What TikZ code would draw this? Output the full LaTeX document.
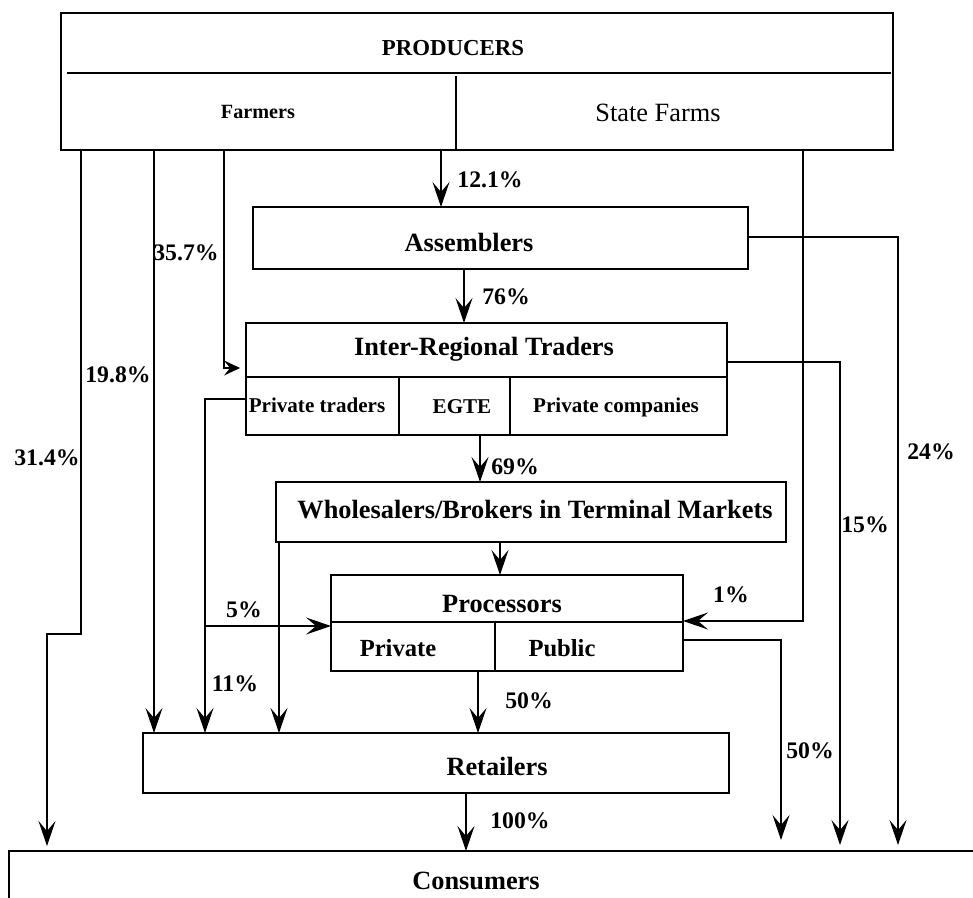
\documentclass[tikz,border=0pt]{standalone}
\usepackage{fontspec}
\setmainfont{Liberation Serif}
\usetikzlibrary{arrows.meta}
\begin{document}
\begin{tikzpicture}[x=0.02cm,y=-0.02cm,
  box/.style={draw,line width=1.3pt,inner sep=0pt,outer sep=0pt},
  conn/.style={line width=0.7pt},
  arr/.style={conn,-{Stealth[length=0.5cm,width=0.34cm,inset=0.2cm]}},
  sarr/.style={conn,-{Stealth[length=0.32cm,width=0.3cm,inset=0.12cm]}},
  big/.style={font=\fontsize{15}{18}\selectfont\bfseries,inner sep=0pt},
  pct/.style={font=\fontsize{13.5}{16}\selectfont\bfseries,inner sep=0pt},
  sub/.style={font=\fontsize{12}{14}\selectfont\bfseries,inner sep=0pt},
  div/.style={line width=0.8pt}]
\useasboundingbox (0,0) rectangle (973,898);
\fill[white] (0,0) rectangle (973,898);

% boxes
\node[box,minimum width=16.64cm,minimum height=2.74cm] (prod) at (477,81.5) {};
\node[box,minimum width=9.9cm,minimum height=1.24cm] (asm) at (500.5,238) {};
\node[box,minimum width=9.62cm,minimum height=2.24cm] (irt) at (486.5,379) {};
\node[box,minimum width=10.2cm,minimum height=1.2cm] (whole) at (531,512) {};
\node[box,minimum width=7.04cm,minimum height=1.92cm] (proc) at (507,623) {};
\node[box,minimum width=11.72cm,minimum height=1.2cm] (ret) at (436,763) {};
\node[box,minimum width=19.82cm,minimum height=2.18cm] (cons) at (504.5,905.5) {};

% dividers
\draw[div] (67,73) -- (891,73);
\draw[div] (456,76) -- (456,0 |- prod.south);
\draw[div] (irt.west |- 0,377) -- (irt.east |- 0,377);
\draw[div] (399,377) -- (399,0 |- irt.south);
\draw[div] (510,377) -- (510,0 |- irt.south);
\draw[div] (proc.west |- 0,622) -- (proc.east |- 0,622);
\draw[div] (495,622) -- (495,0 |- proc.south);

% texts
\node[font=\fontsize{13}{15}\selectfont\bfseries,inner sep=0pt] (tprod) at (453,48) {PRODUCERS};
\node[font=\fontsize{11.5}{14}\selectfont\bfseries,inner sep=0pt] (tfarm) at (258,112) {Farmers};
\node[font=\fontsize{15}{18}\selectfont,inner sep=0pt] (tstate) at (658,113) {State Farms};
\node[big] (tasm) at (469,242) {Assemblers};
\node[big] (tirt) at (484,349) {Inter-Regional Traders};
\node[sub] (tpt) at (317,405) {Private traders};
\node[sub] (tegte) at (462,407) {EGTE};
\node[sub] (tpc) at (616,407) {Private companies};
\node[big] (twhole) at (535,510) {Wholesalers/Brokers in Terminal Markets};
\node[big] (tproc) at (502,604) {Processors};
\node[font=\fontsize{14}{16}\selectfont\bfseries,inner sep=0pt] (tpriv) at (398,648) {Private};
\node[font=\fontsize{14}{16}\selectfont\bfseries,inner sep=0pt] (tpub) at (562,648) {Public};
\node[big] (tret) at (497,766) {Retailers};
\node[big] (tcons) at (476,881) {Consumers};

% connectors
\draw[arr,shorten >=0.1cm] (prod.south -| 81,0) -- (81,634) -- (47,634) -- (cons.north -| 47,0);
\draw[arr] (prod.south -| 154,0) -- (ret.north -| 154,0);
\draw[sarr,shorten >=0.12cm] (prod.south -| 224,0) -- (224,368) -- (irt.west |- 0,368);
\draw[arr] (prod.south -| 441,0) -- (asm.north -| 441,0);
\draw[arr] (prod.south -| 803,0) -- (803,621) -- (proc.east |- 0,621);
\draw[arr,shorten >=0.12cm] (asm.east |- 0,237) -- (898,237) -- (cons.north -| 898,0);
\draw[arr] (asm.south -| 464,0) -- (irt.north -| 464,0);
\draw[arr,shorten >=0.12cm] (irt.east |- 0,362) -- (840,362) -- (cons.north -| 840,0);
\draw[arr] (irt.west |- 0,399) -- (205,399) -- (ret.north -| 205,0);
\draw[arr] (205,626) -- (proc.west |- 0,626);
\draw[arr] (irt.south -| 480,0) -- (whole.north -| 480,0);
\draw[arr] (whole.south -| 500,0) -- (proc.north -| 500,0);
\draw[arr] (whole.south -| 279,0) -- (ret.north -| 279,0);
\coordinate (pend) at (781,840);
\draw[arr] (proc.east |- 0,640) -- (781,640) -- (pend);
\draw[arr] (proc.south -| 478,0) -- (ret.north -| 478,0);
\draw[arr] (ret.south -| 466,0) -- (cons.north -| 466,0);

% percentages
\node[pct] (p121) at (490,180) {12.1\%};
\node[pct] (p357) at (186,253) {35.7\%};
\node[pct] (p76) at (506,297) {76\%};
\node[pct] (p198) at (118,375) {19.8\%};
\node[pct] (p314) at (47,458) {31.4\%};
\node[pct] (p24) at (931,452) {24\%};
\node[pct] (p69) at (515,467) {69\%};
\node[pct] (p15) at (865,525) {15\%};
\node[pct] (p1) at (731,595) {1\%};
\node[pct] (p5) at (244,610) {5\%};
\node[pct] (p11) at (235,684) {11\%};
\node[pct] (p50a) at (529,701) {50\%};
\node[pct] (p50b) at (810,751) {50\%};
\node[pct] (p100) at (520,821) {100\%};
\end{tikzpicture}
\end{document}
